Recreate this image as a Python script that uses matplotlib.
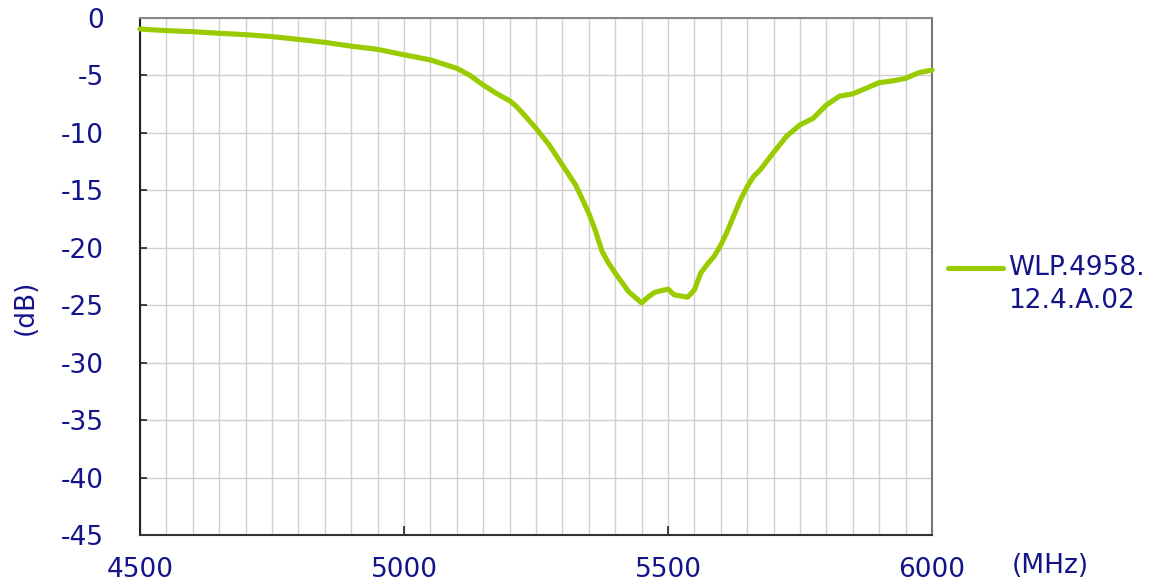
import matplotlib
matplotlib.use('Agg')
import matplotlib.pyplot as plt
from matplotlib.lines import Line2D
from matplotlib.ticker import MultipleLocator

# Datos
freq_mhz = [4500, 4550, 4600, 4650, 4700, 4750, 4800, 4850, 4900, 4950,
            5000, 5050, 5100, 5125, 5150, 5175, 5200, 5212, 5225, 5250,
            5275, 5300, 5325, 5337, 5350, 5362, 5375, 5387, 5400, 5425,
            5450, 5462, 5475, 5500, 5512, 5537, 5550, 5562, 5575, 5587,
            5600, 5612, 5625, 5637, 5650, 5662, 5675, 5700, 5725, 5750,
            5775, 5800, 5825, 5850, 5875, 5900, 5925, 5950, 5975, 6000]
perdida_db = [-0.96, -1.1, -1.19, -1.33, -1.45, -1.62, -1.86, -2.12, -2.45, -2.73,
              -3.2, -3.65, -4.38, -5.0, -5.83, -6.56, -7.2, -7.66, -8.3, -9.6,
              -11.05, -12.8, -14.53, -15.7, -17.0, -18.45, -20.3, -21.3, -22.2, -23.8,
              -24.8, -24.3, -23.87, -23.6, -24.1, -24.3, -23.67, -22.2, -21.4, -20.77,
              -19.76, -18.6, -17.15, -15.84, -14.68, -13.8, -13.2, -11.7, -10.27, -9.3,
              -8.73, -7.57, -6.8, -6.6, -6.12, -5.63, -5.48, -5.25, -4.76, -4.53]
serie = 'WLP.4958.\n12.4.A.02'

azul = '#14148a'
verde = '#99cc00'
plt.rcParams['font.family'] = ['DejaVu Sans']
plt.rcParams['axes.unicode_minus'] = False
tam = 19

fig = plt.figure(figsize=(11.63, 5.86), dpi=100)
ax = fig.add_axes([140 / 1163, 51 / 586, 792 / 1163, 517 / 586])

ax.plot(freq_mhz, perdida_db, color=verde, lw=3.7, solid_capstyle='round',
        solid_joinstyle='round', zorder=3, clip_on=False)

ax.set_xlim(4500, 6000)
ax.set_ylim(-45, 0)
ax.xaxis.set_major_locator(MultipleLocator(500))
ax.xaxis.set_minor_locator(MultipleLocator(50))
ax.yaxis.set_major_locator(MultipleLocator(5))
ax.grid(which='both', axis='x', color='#d0d0d0', lw=1.0)
ax.grid(which='major', axis='y', color='#d0d0d0', lw=1.0)
ax.set_axisbelow(True)

ax.tick_params(axis='y', direction='in', length=5, width=1.2, color='#222222',
               labelsize=tam, labelcolor=azul, pad=26)
ax.tick_params(axis='x', which='major', direction='in', length=6.5, width=1.2,
               color='#222222', labelsize=tam, labelcolor=azul, pad=16)
ax.tick_params(axis='x', which='minor', length=0)

ax.spines['left'].set_color('#222222')
ax.spines['bottom'].set_color('#333333')
ax.spines['top'].set_color('#888888')
ax.spines['right'].set_color('#777777')
for s in ax.spines.values():
    s.set_linewidth(1.5)

fig.text(26 / 1163, 1 - 307 / 586, '(dB)', rotation=90, ha='center', va='center',
         fontsize=tam, color=azul)
fig.text(1050 / 1163, 1 - 566 / 586, '(MHz)', ha='center', va='center',
         fontsize=tam, color=azul)

# Leyenda (linea a la altura de la primera linea del texto)
y_ley = 1 - 268 / 586
fig.add_artist(Line2D([948 / 1163, 1003 / 1163], [y_ley, y_ley],
                      transform=fig.transFigure, color=verde, lw=3.7,
                      solid_capstyle='round'))
fig.text(1008 / 1163, y_ley + 13 / 586, serie, ha='left', va='top',
         fontsize=tam, color=azul, linespacing=1.37)

fig.savefig('out.png', dpi=100)
